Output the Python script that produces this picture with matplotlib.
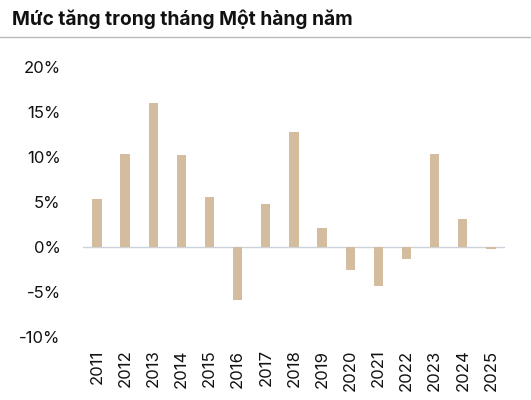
import matplotlib.pyplot as plt
from matplotlib.ticker import FuncFormatter
from matplotlib.lines import Line2D

plt.rcParams['font.family'] = ['Inter', 'DejaVu Sans']

nam = ['2011', '2012', '2013', '2014', '2015', '2016', '2017', '2018',
       '2019', '2020', '2021', '2022', '2023', '2024', '2025']
muc_tang = [5.3, 10.3, 16.0, 10.2, 5.6, -5.9, 4.8, 12.8,
            2.1, -2.6, -4.3, -1.3, 10.3, 3.1, -0.2]

fig = plt.figure(figsize=(5.31, 4), dpi=100)
ax = fig.add_axes([0.156, 0.1575, 0.795, 0.675])

ax.bar(range(len(nam)), muc_tang, width=0.33, color='#D4BD9E', zorder=2)
ax.axhline(0, color='#CDD2DA', linewidth=1, zorder=1)

ax.set_ylim(-10, 20)
ax.set_xlim(-0.5, len(nam) - 0.5)
ax.set_yticks([-10, -5, 0, 5, 10, 15, 20])
ax.yaxis.set_major_formatter(FuncFormatter(lambda v, p: f'{v:.0f}%'))
ax.set_xticks(range(len(nam)))
ax.set_xticklabels(nam, rotation=90)
ax.tick_params(axis='both', length=0, labelsize=12, colors='#111111')
ax.tick_params(axis='y', pad=16)
ax.tick_params(axis='x', pad=9)
for s in ax.spines.values():
    s.set_visible(False)

fig.text(0.022, 0.952, 'Mức tăng trong tháng Một hàng năm', fontsize=13.8,
         fontweight='bold', color='#111111', va='center')
fig.add_artist(Line2D([0, 1], [0.907, 0.907], color='#BBBBBB', linewidth=1,
                      transform=fig.transFigure))

fig.savefig('out.png', dpi=100)
